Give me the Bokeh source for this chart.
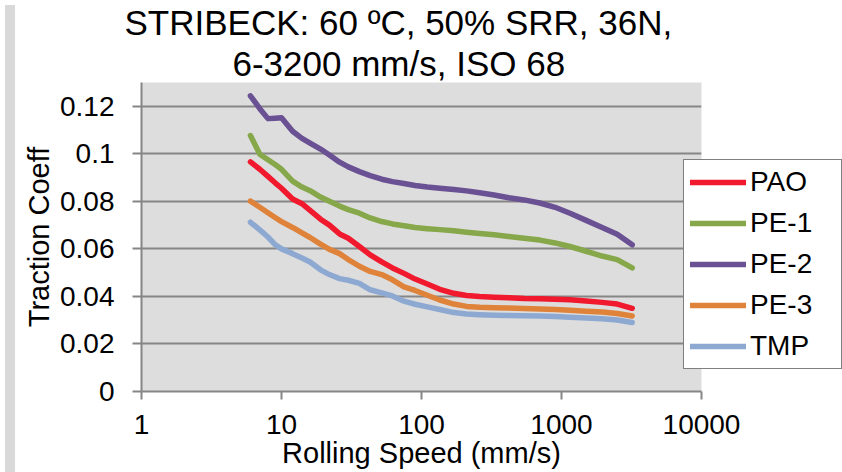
from bokeh.plotting import figure
from bokeh.models import Legend, LegendItem, Title, CustomJSTickFormatter, FixedTicker, Div
from bokeh.layouts import row
from bokeh.embed import file_html
from bokeh.resources import INLINE

# ---------------- data ----------------
speed = [6, 7, 8, 9, 10, 12, 14, 16, 19, 22, 26, 30, 36, 43, 52, 62, 75, 90, 110,
         135, 170, 210, 260, 330, 420, 540, 700, 900, 1150, 1500, 1950, 2500, 3200]

pao = [0.0966, 0.0935, 0.0905, 0.0878, 0.0855, 0.0810, 0.0790, 0.0762, 0.0725, 0.0700,
       0.0663, 0.0645, 0.0610, 0.0575, 0.0545, 0.0520, 0.0497, 0.0473, 0.0452, 0.0430,
       0.0413, 0.0404, 0.0400, 0.0397, 0.0394, 0.0391, 0.0390, 0.0388, 0.0386, 0.0381,
       0.0375, 0.0368, 0.0350]
pe1 = [0.1077, 0.0998, 0.0975, 0.0955, 0.0935, 0.0885, 0.0860, 0.0845, 0.0818, 0.0800,
       0.0780, 0.0765, 0.0750, 0.0730, 0.0715, 0.0705, 0.0697, 0.0690, 0.0685, 0.0681,
       0.0676, 0.0670, 0.0665, 0.0659, 0.0652, 0.0645, 0.0637, 0.0625, 0.0610, 0.0590,
       0.0570, 0.0555, 0.0520]
pe2 = [0.1244, 0.1190, 0.1148, 0.1150, 0.1152, 0.1095, 0.1065, 0.1045, 0.1020, 0.0995,
       0.0965, 0.0945, 0.0925, 0.0908, 0.0893, 0.0883, 0.0875, 0.0867, 0.0860, 0.0855,
       0.0850, 0.0844, 0.0836, 0.0827, 0.0815, 0.0806, 0.0793, 0.0775, 0.0750, 0.0720,
       0.0690, 0.0662, 0.0617]
pe3 = [0.0801, 0.0775, 0.0752, 0.0732, 0.0715, 0.0690, 0.0667, 0.0648, 0.0620, 0.0598,
       0.0580, 0.0555, 0.0527, 0.0505, 0.0492, 0.0470, 0.0440, 0.0425, 0.0405, 0.0385,
       0.0368, 0.0358, 0.0354, 0.0352, 0.0351, 0.0349, 0.0347, 0.0345, 0.0342, 0.0338,
       0.0334, 0.0328, 0.0318]
tmp = [0.0712, 0.0680, 0.0650, 0.0618, 0.0600, 0.0580, 0.0562, 0.0545, 0.0512, 0.0492,
       0.0475, 0.0468, 0.0455, 0.0428, 0.0415, 0.0402, 0.0380, 0.0367, 0.0356, 0.0345,
       0.0332, 0.0326, 0.0323, 0.0321, 0.0320, 0.0319, 0.0318, 0.0316, 0.0312, 0.0309,
       0.0306, 0.0301, 0.0290]

series_names = ["PAO", "PE-1", "PE-2", "PE-3", "TMP"]
series_values = [pao, pe1, pe2, pe3, tmp]
series_colors = ["#F0192D", "#87A84A", "#6A5193", "#DF823A", "#8DA9D1"]

x_ticks = [1, 10, 100, 1000, 10000]
y_ticks = [0, 0.02, 0.04, 0.06, 0.08, 0.1, 0.12]
title_lines = ["STRIBECK: 60 \u00baC, 50% SRR, 36N,", "6-3200 mm/s, ISO 68"]
x_label = "Rolling Speed (mm/s)"
y_label = "Traction Coeff"

# ---------------- figure ----------------
FONT = "Liberation Sans"
GREY = "#868686"

p = figure(x_axis_type="log", x_range=(1, 10000), y_range=(0, 0.13),
           frame_width=560, frame_height=309,
           min_border_left=0, min_border_right=0,
           min_border_top=82, min_border_bottom=81,
           output_backend="svg", toolbar_location=None)
p.background_fill_color = "#DDDDDD"
p.border_fill_color = "white"
p.outline_line_color = None
p.title.visible = False

renderers = []
for name, vals, col in zip(series_names, series_values, series_colors):
    r = p.line(speed, vals, line_width=5.5, line_color=col,
               line_join="round", line_cap="round")
    renderers.append((name, r))

# axes
p.xaxis.ticker = FixedTicker(ticks=x_ticks, minor_ticks=[])
p.xaxis.formatter = CustomJSTickFormatter(code="return tick.toString();")
p.yaxis.ticker = FixedTicker(ticks=y_ticks, minor_ticks=[])
p.yaxis.formatter = CustomJSTickFormatter(
    code="return (Math.round(tick*100)/100).toString();")

for ax in (p.xaxis[0], p.yaxis[0]):
    ax.axis_line_color = GREY
    ax.axis_line_width = 2
    ax.major_tick_line_color = GREY
    ax.major_tick_line_width = 2
    ax.major_tick_in = 0
    ax.minor_tick_line_color = None
    ax.major_label_text_font = FONT
    ax.major_label_text_font_size = "28px"
    ax.major_label_text_color = "black"
    ax.axis_label_text_font = FONT
    ax.axis_label_text_font_size = "29px"
    ax.axis_label_text_font_style = "normal"
    ax.axis_label_text_color = "black"

p.xaxis.major_tick_out = 8
p.xaxis.major_label_standoff = 15
p.xaxis.axis_label = x_label
p.xaxis.axis_label_standoff = 0

p.yaxis.major_tick_out = 9
p.yaxis.major_label_standoff = 18
p.yaxis.axis_label = y_label
p.yaxis.axis_label_standoff = 2

p.xgrid.grid_line_color = None
p.ygrid.grid_line_color = GREY
p.ygrid.grid_line_width = 2

# title: two lines stacked above the frame (first added = nearest the frame)
for txt, off in [(title_lines[1], 91), (title_lines[0], -17)]:
    p.add_layout(Title(text=txt, align="left", offset=off, standoff=0,
                       text_font=FONT, text_font_size="35px",
                       text_font_style="normal", text_color="black"), "above")

# legend (right panel, overlapping the frame edge like the reference)
legend = Legend(items=[LegendItem(label=n, renderers=[r]) for n, r in renderers],
                location=(-18, 22), orientation="vertical",
                label_text_font=FONT, label_text_font_size="28px",
                label_text_color="black",
                glyph_width=56, glyph_height=32, label_height=32, label_width=85,
                label_standoff=4, spacing=9, padding=6, margin=-8,
                border_line_color="black", border_line_width=1.5,
                background_fill_color="white", background_fill_alpha=1.0)
p.add_layout(legend, "right")

strip = Div(width=10, height=472, styles={"background-color": "#D9D9D9"})
layout = row(strip, p)

open("out.html", "w").write(file_html(layout, INLINE))
